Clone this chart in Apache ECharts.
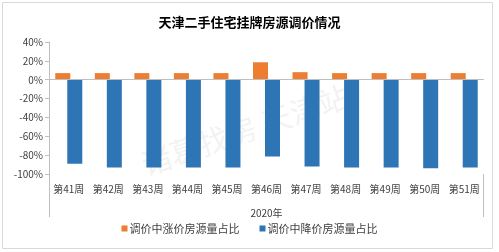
<!DOCTYPE html>
<html><head><meta charset="utf-8">
<script src="https://cdn.jsdelivr.net/npm/echarts@6/dist/echarts.min.js"></script>
<style>html,body{margin:0;padding:0;background:#fff}#c{width:499px;height:252px}</style>
</head><body><div id="c"></div>
<script>
const categories = ['第41周','第42周','第43周','第44周','第45周','第46周','第47周','第48周','第49周','第50周','第51周'];
const upShare = [7, 7, 7, 7, 7, 18.5, 8, 7, 7, 7, 7];
const downShare = [-89, -93, -93, -93, -93, -81.5, -92, -93, -93, -94, -93];
const yTicks = [40, 20, 0, -20, -40, -60, -80, -100];
const seriesNames = ['调价中涨价房源量占比', '调价中降价房源量占比'];
const titleText = '天津二手住宅挂牌房源调价情况';
const yearLabel = '2020年';
const watermark = '诸葛找房 天津站';

const FONT = '"Noto Sans CJK SC", "Liberation Sans", sans-serif';
const chart = echarts.init(document.getElementById('c'), null, {renderer: 'canvas'});
const gridL = 49, gridR = 15, gridT = 42, gridB = 78;
chart.setOption({
  animation: false,
  backgroundColor: '#fff',
  title: {text: titleText, left: 'center', top: 11,
    textStyle: {fontFamily: FONT, fontSize: 13, fontWeight: 'bold', color: '#000'}},
  legend: {bottom: 13, left: 'center', itemWidth: 6, itemHeight: 6, itemGap: 20,
    icon: 'rect', textStyle: {fontFamily: FONT, fontSize: 11, color: '#404040', padding: [0,0,0,-3]},
    data: seriesNames},
  grid: {left: gridL, right: gridR, top: gridT, bottom: gridB},
  xAxis: {type: 'category', data: categories,
    axisLine: {show: false, onZero: false}, axisTick: {show: false},
    axisLabel: {fontFamily: FONT, fontSize: 10, color: '#404040', margin: 10, interval: 0, hideOverlap: false},
    name: yearLabel, nameLocation: 'middle', nameGap: 34,
    nameTextStyle: {fontFamily: FONT, fontSize: 10, color: '#404040'}},
  yAxis: {type: 'value', min: -100, max: 40, interval: 20,
    axisLine: {show: true, lineStyle: {color: '#bfbfbf'}},
    axisTick: {show: true, length: 4, lineStyle: {color: '#bfbfbf'}},
    splitLine: {show: false},
    axisLabel: {fontFamily: FONT, fontSize: 10, color: '#404040', margin: 6,
      formatter: v => yTicks.includes(v) ? v + '%' : ''}},
  series: [
    {name: seriesNames[0], type: 'bar', data: upShare, barWidth: 15, barGap: '-20%',
      itemStyle: {color: '#ED7D31'}, z: 3,
      markLine: {silent: true, symbol: 'none', label: {show: false},
        lineStyle: {color: '#bfbfbf', type: 'solid', width: 1}, data: [{yAxis: 0}]}},
    {name: seriesNames[1], type: 'bar', data: downShare, barWidth: 15,
      itemStyle: {color: '#2E75B6'}, z: 2}
  ]
});
const W = 499, H = 252;
const x0 = gridL, x1 = W - gridR, yb = H - gridB;
chart.setOption({
  graphic: [
    {type: 'rect', shape: {x: 2.5, y: 2.5, width: 490, height: 246}, style: {fill: null, stroke: '#d9d9d9', lineWidth: 1}, z: -10, silent: true},
    {type: 'line', shape: {x1: x0 + 0.5, y1: yb, x2: x0 + 0.5, y2: 217}, style: {stroke: '#bfbfbf', lineWidth: 1}, silent: true},
    {type: 'line', shape: {x1: x1 - 0.5, y1: yb, x2: x1 - 0.5, y2: 217}, style: {stroke: '#bfbfbf', lineWidth: 1}, silent: true},
    {type: 'text', x: 245, y: 130, rotation: 0.33, originX: 0, originY: 0,
      style: {text: watermark, fontFamily: FONT, fontSize: 30, fill: 'rgba(190,190,190,0.2)', textAlign: 'center', textVerticalAlign: 'middle'},
      z: -5, silent: true}
  ]
});
</script></body></html>
